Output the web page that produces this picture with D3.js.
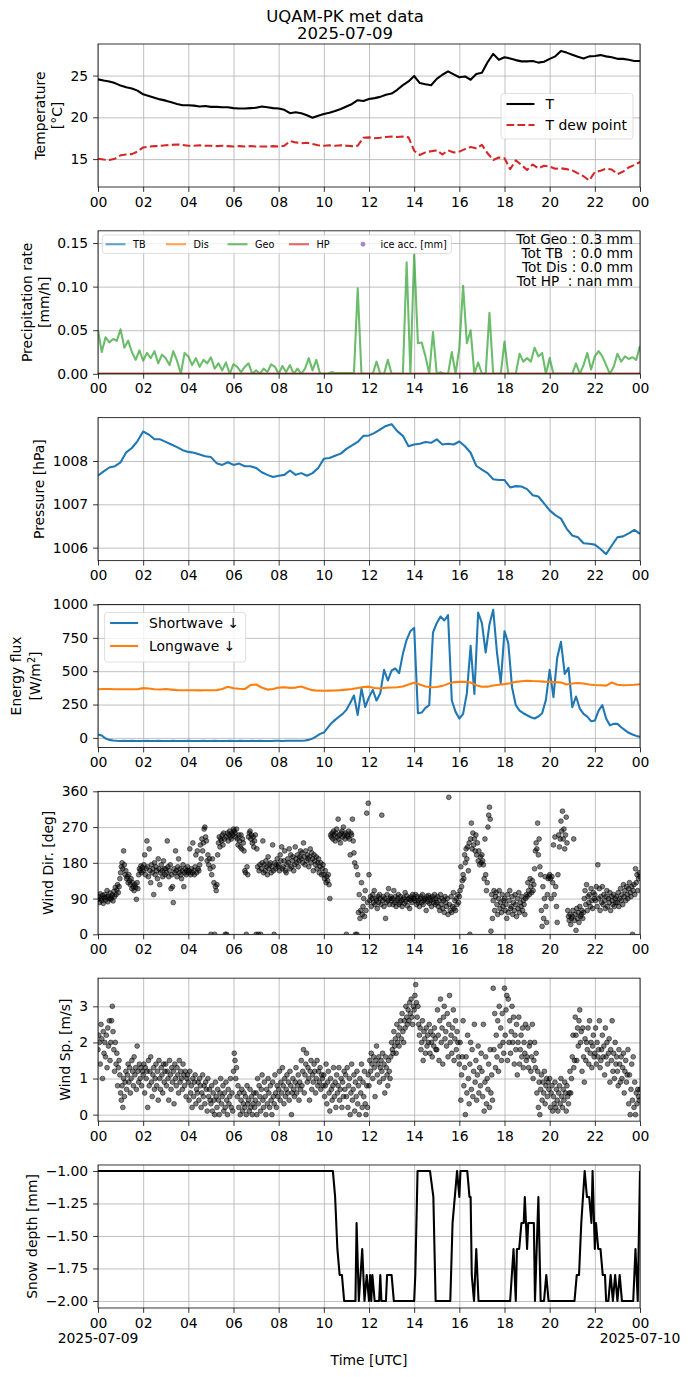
<!DOCTYPE html>
<html>
<head>
<meta charset="utf-8">
<title>UQAM-PK met data</title>
<script src="https://cdn.jsdelivr.net/npm/d3@7"></script>
<style>
  body { margin: 0; background: #fff; }
  text { font-family: "DejaVu Sans", sans-serif; fill: #000; }
  .tick text { font-size: 13.9px; }
  .grid line { stroke: #b0b0b0; stroke-width: 0.8; }
  .ticks line { stroke: #000; stroke-width: 0.8; }
</style>
</head>
<body>
<svg id="fig" width="690" height="1377"></svg>
<script>
// ---- data (hours from 2025-07-09 00:00 UTC) ----
var xTickHours = [0, 2, 4, 6, 8, 10, 12, 14, 16, 18, 20, 22, 24];

// temperature, every 15 min
var tempT = [
  24.55, 24.4, 24.3, 24.1,  23.8, 23.6, 23.45, 23.2,  22.75, 22.55, 22.35, 22.15,
  22.0, 21.8, 21.6, 21.45,  21.45, 21.4, 21.3, 21.35,  21.25, 21.25, 21.2, 21.2,
  21.1, 21.05, 21.05, 21.1,  21.15, 21.3, 21.2, 21.1,  21.05, 20.9, 20.5, 20.6,
  20.5, 20.25, 19.95, 20.2,  20.4, 20.55, 20.75, 21.0,  21.3, 21.6, 22.05, 21.95,
  22.2, 22.3, 22.45, 22.7,  22.85, 23.3, 23.85, 24.3,  24.95, 24.1, 23.95, 23.85,
  24.6, 25.1, 25.5, 25.15,  24.8, 24.9, 24.5, 25.2,  25.35, 26.6, 27.6, 26.9,
  27.2, 27.05, 26.85, 26.7,  26.7, 26.75, 26.55, 26.65,  27.0, 27.3, 27.95, 27.75,
  27.5, 27.25, 27.05, 27.3,  27.35, 27.45, 27.3, 27.2,  27.0, 27.0, 26.9, 26.75,
  26.75
];
var tempTd = [
  15.05, 14.95, 14.9, 15.05,  15.45, 15.55, 15.6, 15.9,  16.4, 16.5, 16.55, 16.6,
  16.65, 16.7, 16.75, 16.7,  16.6, 16.6, 16.65, 16.6,  16.6, 16.55, 16.6, 16.55,
  16.5, 16.55, 16.5, 16.55,  16.5, 16.5, 16.5, 16.55,  16.5, 16.6, 17.15, 17.0,
  16.9, 16.95, 16.8, 16.65,  16.6, 16.65, 16.6, 16.65,  16.6, 16.55, 16.6, 17.55,
  17.6, 17.5, 17.55, 17.65,  17.7, 17.65, 17.7, 17.6,  16.0, 15.5, 15.8, 15.95,
  16.05, 15.55, 16.05, 15.8,  15.9, 16.2, 16.45, 16.3,  16.7, 15.7, 14.9, 15.2,
  15.1, 13.8, 14.85, 14.3,  13.7, 14.35, 13.9, 14.2,  14.1, 13.85, 13.9, 13.8,
  13.65, 13.3, 12.95, 12.45,  13.45, 13.6, 13.85, 13.75,  13.2, 13.5, 14.0, 14.3,
  14.65
];

// precipitation rate, every 10 min
var precipGeo = [
  .05, .025, .042, .036, .04, .038,   .051, .03, .038, .025, .016, .027,
  .015, .024, .018, .026, .012, .022, .018, .01, .026, .015, 0, .024,
  .02, .01, .018, .008, .016, .012,   .019, .006, .012, .004, .013, 0,
  .011, .008, .002, .008, .012, 0,    .004, 0, .006, .002, .011, .008,
  0, .009, .002, .01, 0, .006,        0, .006, .018, .004, .016, 0,
  0, 0, .002, .001, .001, .001,       .001, .001, .001, .098, 0, 0,
  0, 0, .014, 0, 0, .016,             0, 0, 0, 0, .128, 0,
  .137, .035, .036, .02, 0, .048,     0, .002, 0, 0, .025, 0,
  .03, .101, .035, .05, 0, .013,      0, 0, .07, 0, 0, 0,
  .037, 0, 0, 0, .023, .014,          .018, .014, .03, .02, .024, 0,
  .018, 0, 0, 0, 0, 0,                0, .012, 0, .01, .024, .005,
  .02, .026, .02, .01, 0, .008,       .023, .014, .02, .017, .019, .016,
  .032
];
var zeroHours = [0, 24];
var precipTB = [0, 0];
var precipDis = [0, 0];
var precipHP = [0, 0];
var precipTotals = ["Tot Geo : 0.3 mm", "Tot TB  : 0.0 mm", "Tot Dis : 0.0 mm", "Tot HP  : nan mm"];

// pressure, every 15 min
var pressure = [
  1007.66, 1007.76, 1007.85, 1007.88,  1007.97, 1008.2, 1008.3, 1008.46,
  1008.68, 1008.61, 1008.5, 1008.5,    1008.44, 1008.38, 1008.32, 1008.25,
  1008.21, 1008.19, 1008.15, 1008.11,  1008.09, 1007.95, 1007.91, 1007.97,
  1007.91, 1007.94, 1007.88, 1007.88,  1007.84, 1007.74, 1007.68, 1007.63,
  1007.66, 1007.68, 1007.78, 1007.68,  1007.72, 1007.66, 1007.72, 1007.84,
  1008.05, 1008.07, 1008.12, 1008.17,  1008.28, 1008.36, 1008.44, 1008.58,
  1008.59, 1008.65, 1008.73, 1008.81,  1008.85, 1008.69, 1008.58, 1008.34,
  1008.38, 1008.4, 1008.44, 1008.42,   1008.5, 1008.38, 1008.4, 1008.38,
  1008.45, 1008.34, 1008.19, 1007.89,  1007.8, 1007.72, 1007.58, 1007.56,
  1007.56, 1007.39, 1007.42, 1007.41,  1007.35, 1007.21, 1007.18, 1007.02,
  1006.86, 1006.75, 1006.67, 1006.44,  1006.28, 1006.24, 1006.1, 1006.09,
  1006.07, 1005.97, 1005.85, 1006.05,  1006.24, 1006.26, 1006.33, 1006.41,
  1006.32
];

// shortwave down, every 10 min
var shortwave = [
  25, 18, -5, -15, -20, -22,   -23, -22, -23, -22, -23, -23,
  -23, -22, -23, -23, -22, -23, -23, -23, -22, -23, -23, -23,
  -22, -23, -23, -23, -22, -23, -23, -22, -23, -23, -23, -22,
  -23, -23, -22, -23, -23, -22, -23, -22, -23, -23, -23, -22,
  -22, -23, -22, -22, -22, -21, -21, -20, -15, -5, 12, 30,
  40, 75, 110, 135, 158, 180,  210, 262, 318, 172, 370, 232,
  305, 360, 280, 335, 510, 430, 505, 520, 485, 630, 735, 800,
  825, 185, 190, 225, 245, 790, 860, 910, 880, 920, 280, 195,
  145, 180, 335, 690, 330, 940, 860, 640, 850, 960, 640, 410,
  800, 710, 380, 245, 205, 185, 170, 155, 145, 160, 185, 285,
  510, 305, 600, 720, 480, 525, 230, 310, 220, 180, 160, 125,
  130, 205, 245, 145, 95, 105,  105, 80, 58, 38, 25, 15,
  8
];
// longwave down, every 15 min
var longwave = [
  365, 366, 366, 365,  365, 364, 364, 365,  373, 370, 364, 363,
  366, 362, 358, 357,  357, 357, 356, 357,  357, 358, 366, 383,
  372, 368, 366, 396,  400, 378, 362, 366,  377, 380, 375, 377,
  385, 370, 358, 354,  353, 354, 355, 358,  362, 366, 374, 382,
  384, 374, 370, 376,  378, 380, 385, 400,  414, 400, 385, 380,
  382, 390, 405, 418,  420, 420, 415, 395,  383, 384, 392, 398,
  403, 410, 420, 425,  428, 426, 425, 422,  420, 418, 415, 400,
  408, 412, 408, 400,  396, 395, 392, 415,  398, 395, 396, 398,
  402
];

// wind direction, every 2 min (one row per hour)
var windDir = [
  88, 95, 80, 102, 90, 85, 98, 78, 92, 100, 86, 94, 110, 82, 96, 90, 104, 88, 93, 99, 84, 108, 95, 118, 100, 112, 125, 105, 120, 140,
  155, 170, 180, 165, 210, 175, 150, 160, 140, 145, 130, 150, 135, 125, 140, 115, 130, 120, 110, 125, 118, 88, 130, 115, 150, 165, 160, 172, 155, 168,
  160, 175, 200, 150, 165, 235, 170, 145, 215, 160, 130, 175, 155, 165, 100, 180, 150, 170, 160, 140, 190, 165, 125, 155, 175, 160, 145, 185, 165, 150,
  165, 155, 235, 170, 145, 160, 175, 115, 150, 120, 80, 165, 155, 210, 160, 145, 170, 190, 155, 165, 150, 140, 160, 175, 120, 155, 165, 150, 160, 170,
  155, 160, 215, 150, 165, 155, 230, 160, 150, 170, 200, 155, 210, 165, 160, 175, 225, 190, 240, 210, 230, 265, 270, 245, 235, 185, 200, 175, 190, 165,
  0, 150, 190, 170, 130, 0, 120, 110, 125, 200, 230, 245, 220, 240, 235, 250, 225, 255, 240, 0, 245, 0, 255, 235, 250, 260, 245, 240, 255, 250,
  265, 260, 255, 245, 265, 240, 225, 250, 235, 220, 250, 215, 240, 230, 210, 160, 155, 0, 170, 150, 245, 255, 260, 240, 250, 230, 245, 220, 235, 250,
  0, 215, 170, 0, 160, 175, 0, 165, 180, 235, 155, 175, 160, 185, 170, 150, 195, 165, 175, 180, 155, 170, 225, 160, 0, 180, 165, 175, 190, 170,
  175, 160, 200, 185, 220, 165, 170, 185, 210, 160, 155, 175, 190, 180, 215, 165, 200, 170, 185, 195, 160, 175, 220, 190, 180, 200, 170, 185, 195, 210,
  190, 205, 180, 230, 195, 175, 210, 185, 200, 190, 170, 195, 215, 180, 205, 190, 160, 200, 185, 175, 195, 165, 180, 190, 155, 170, 180, 150, 165, 175,
  150, 140, 160, 130, 145, 135, 150, 125, 90, 250, 245, 255, 240, 260, 250, 235, 255, 265, 245, 290, 240, 250, 230, 255, 260, 245, 270, 250, 240, 255,
  0, 250, 245, 260, 240, 200, 255, 250, 290, 235, 205, 180, 0, 170, 0, 150, 55, 100, 40, 60, 130, 50, 70, 90, 45, 110, 60, 305, 80, 330,
  150, 85, 95, 70, 90, 100, 80, 110, 75, 90, 85, 65, 95, 80, 100, 90, 75, 300, 85, 95, 70, 90, 40, 80, 100, 85, 115, 75, 90, 95,
  85, 90, 75, 110, 80, 95, 70, 85, 90, 100, 75, 80, 95, 85, 70, 88, 92, 78, 105, 83, 97, 72, 88, 91, 65, 86, 94, 80, 100, 90,
  90, 85, 100, 75, 95, 80, 85, 70, 90, 95, 80, 100, 75, 85, 90, 88, 60, 95, 82, 98, 78, 92, 85, 70, 95, 88, 80, 100, 75, 90,
  80, 95, 70, 85, 60, 100, 75, 90, 65, 85, 55, 95, 80, 70, 90, 50, 345, 75, 60, 95, 55, 70, 105, 65, 85, 60, 90, 75, 100, 80,
  95, 110, 170, 120, 135, 150, 140, 200, 180, 215, 190, 220, 160, 230, 0, 240, 280, 215, 255, 225, 240, 210, 250, 200, 230, 185, 210, 175, 195, 180,
  200, 185, 175, 140, 240, 150, 110, 130, 270, 300, 320, 290, 8, 100, 40, 85, 110, 60, 95, 105, 75, 50, 90, 110, 65, 80, 55, 100, 70, 85,
  90, 60, 75, 40, 100, 55, 85, 110, 65, 70, 95, 50, 80, 60, 100, 75, 45, 90, 65, 105, 55, 80, 70, 95, 60, 85, 75, 50, 90, 100,
  95, 130, 110, 100, 140, 120, 105, 135, 110, 125, 165, 210, 230, 215, 280, 200, 240, 170, 150, 60, 20, 120, 40, 90, 145, 70, 30, 100, 140, 145,
  150, 140, 90, 145, 130, 225, 100, 245, 120, 70, 30, 150, 250, 220, 240, 285, 260, 310, 240, 265, 215, 250, 295, 230, 60, 45, 35, 50, 25, 40,
  45, 60, 240, 35, 50, 10, 65, 40, 55, 30, 70, 45, 50, 60, 40, 55, 90, 110, 75, 125, 60, 95, 80, 100, 70, 115, 85, 65, 105, 90,
  100, 85, 120, 70, 175, 90, 115, 60, 95, 80, 120, 75, 100, 85, 65, 95, 110, 70, 90, 80, 105, 60, 95, 85, 75, 100, 70, 90, 80, 95,
  80, 105, 70, 90, 115, 85, 100, 75, 125, 95, 110, 85, 120, 100, 90, 115, 130, 105, 95, 120, 0, 110, 125, 100, 165, 130, 150, 110, 140, 155,
  145
];
// wind speed, every 2 min (one row per hour)
var windSpeed = [
  1.8, 2.2, 2.0, 1.4, 2.5, 2.1, 1.0, 2.3, 1.7, 2.0, 1.6, 2.2, 1.3, 2.4, 1.9, 2.6, 1.5, 2.0, 2.6, 3.0, 2.3, 1.8, 1.2, 2.0, 1.4, 1.7, 0.8, 1.3, 1.5, 1.1,
  0.6, 0.4, 0.8, 0.2, 1.0, 0.5, 0.9, 1.2, 0.7, 1.1, 1.4, 0.9, 1.3, 0.6, 1.0, 1.5, 1.2, 0.8, 1.6, 1.1, 1.3, 0.7, 1.9, 1.2, 0.9, 1.4, 1.0, 1.3, 0.8, 1.2,
  1.1, 1.4, 0.6, 1.3, 1.0, 1.2, 0.2, 1.5, 0.8, 1.2, 1.6, 0.9, 0.5, 1.1, 1.3, 0.7, 1.0, 1.4, 0.8, 1.2, 0.4, 1.5, 1.0, 0.7, 1.3, 1.1, 0.6, 1.4, 0.9, 1.2,
  1.4, 0.8, 1.2, 1.0, 0.4, 1.5, 1.1, 0.7, 1.3, 0.9, 1.2, 0.3, 1.4, 1.0, 0.8, 1.3, 1.1, 0.6, 1.5, 0.9, 1.2, 1.0, 0.7, 1.4, 1.1, 0.8, 1.2, 0.5, 1.0, 1.1,
  0.9, 0.4, 1.2, 0.6, 0.8, 0.2, 1.0, 0.5, 0.9, 1.1, 0.3, 0.7, 0.6, 0.9, 0.4, 1.0, 0.8, 0.2, 0.6, 1.1, 0.5, 0.8, 0.3, 0.9, 0.7, 0.1, 1.0, 0.5, 0.7, 0.4,
  0.3, 0.8, 0.1, 0.6, 0.4, 0.0, 0.9, 0.5, 0.2, 0.7, 0.4, 0.0, 0.6, 1.0, 0.3, 0.5, 0.8, 0.1, 0.6, 0.2, 0.9, 0.4, 0.0, 0.7, 0.3, 0.5, 1.0, 0.2, 0.6, 0.1,
  1.2, 1.7, 1.5, 1.0, 1.3, 0.5, 0.8, 0.2, 0.6, 0.0, 0.4, 0.7, 0.1, 0.3, 0.6, 0.2, 0.5, 0.0, 0.8, 0.3, 0.4, 0.1, 0.7, 0.2, 0.5, 0.0, 0.3, 0.6, 0.2, 0.4,
  0.6, 0.0, 1.0, 0.3, 0.8, 0.5, 0.1, 0.7, 1.1, 0.4, 0.2, 0.9, 0.5, 0.0, 0.7, 0.3, 1.0, 0.6, 0.2, 0.8, 0.4, 0.0, 0.9, 0.5, 0.3, 1.1, 0.6, 0.2, 0.8, 0.5,
  0.7, 1.2, 0.4, 0.9, 0.6, 1.3, 0.8, 0.3, 1.0, 0.5, 0.7, 1.1, 0.6, 0.9, 0.4, 1.2, 0.8, 0.0, 0.6, 1.0, 0.7, 0.5, 0.9, 1.3, 0.6, 0.8, 1.1, 0.4, 0.9, 0.7,
  1.5, 0.8, 1.2, 1.8, 0.6, 1.1, 1.4, 1.7, 0.9, 1.3, 1.0, 0.4, 1.2, 1.5, 0.7, 1.1, 0.9, 1.4, 1.2, 0.6, 1.0, 1.5, 0.8, 1.2, 0.9, 1.3, 0.7, 1.1, 1.0, 0.8,
  1.1, 0.5, 0.8, 1.4, 0.3, 0.9, 1.2, 0.6, 0.1, 1.0, 0.7, 0.4, 0.8, 1.3, 0.5, 0.9, 0.2, 1.1, 0.6, 0.8, 1.3, 0.4, 0.7, 1.0, 0.2, 0.9, 0.5, 1.2, 0.7, 1.1,
  0.5, 1.3, 0.2, 0.8, 1.0, 0.0, 0.6, 1.4, 0.4, 0.7, 1.1, 0.1, 0.9, 0.5, 1.2, 0.3, 0.8, 0.0, 1.0, 0.6, 1.4, 0.2, 0.9, 0.5, 1.2, 0.3, 0.0, 0.8, 0.2, 1.1,
  0.8, 1.5, 1.2, 1.7, 1.4, 1.0, 1.6, 1.3, 0.5, 1.5, 1.9, 1.1, 1.4, 1.6, 0.9, 1.3, 1.5, 1.2, 1.7, 1.0, 1.4, 0.6, 1.6, 1.3, 1.1, 0.8, 1.5, 1.2, 1.0, 1.6,
  2.0, 1.8, 1.7, 2.3, 1.9, 2.1, 1.7, 2.5, 2.0, 2.2, 1.9, 2.4, 2.6, 2.1, 2.8, 2.3, 2.0, 2.6, 2.4, 3.0, 2.7, 2.5, 2.9, 2.6, 3.1, 2.8, 3.2, 2.7, 2.5, 3.0,
  2.9, 3.3, 3.6, 3.1, 2.7, 3.0, 2.5, 2.2, 2.4, 1.8, 2.0, 2.6, 1.5, 2.3, 2.1, 1.7, 2.4, 1.9, 2.2, 2.0, 2.5, 1.7, 2.3, 2.0, 1.6, 2.2, 1.9, 2.4, 2.1, 1.8,
  1.8, 2.9, 2.2, 1.5, 2.6, 3.2, 2.0, 2.4, 1.4, 2.7, 3.0, 2.1, 2.3, 1.9, 2.8, 1.6, 2.5, 3.3, 2.0, 2.2, 1.7, 2.4, 2.9, 1.5, 2.1, 2.6, 1.8, 2.3, 2.0, 1.6,
  1.4, 2.0, 0.4, 1.1, 1.6, 2.6, 0.8, 1.3, 0.0, 1.6, 0.6, 2.2, 1.0, 0.3, 1.4, 2.0, 0.7, 1.8, 0.5, 1.2, 2.5, 0.9, 1.5, 0.4, 1.1, 1.9, 0.6, 1.3, 0.8, 1.7,
  1.2, 0.5, 2.5, 0.1, 0.9, 1.6, 0.3, 1.0, 0.7, 1.4, 0.2, 1.8, 0.6, 1.1, 0.4, 3.5, 1.8, 2.8, 1.3, 2.2, 1.6, 2.6, 1.2, 3.0, 1.9, 2.4, 1.5, 2.8, 2.0, 1.7,
  3.5, 2.2, 2.9, 3.3, 1.5, 3.2, 2.0, 2.6, 1.7, 2.3, 3.0, 2.0, 2.7, 1.4, 2.2, 1.8, 2.5, 1.1, 2.0, 2.7, 1.4, 1.8, 2.2, 1.6, 2.4, 1.3, 2.0, 1.7, 2.5, 1.5,
  1.6, 2.4, 1.3, 1.9, 2.0, 1.2, 1.6, 2.5, 1.0, 1.5, 2.0, 1.3, 1.7, 0.6, 1.2, 0.2, 0.9, 0.0, 0.7, 1.1, 0.4, 0.9, 0.6, 1.2, 0.3, 0.8, 1.0, 0.5, 0.9, 0.7,
  1.0, 0.2, 0.6, 0.8, 0.1, 0.5, 0.3, 0.9, 0.2, 0.7, 0.4, 0.1, 0.6, 0.8, 0.3, 1.0, 0.5, 0.2, 0.7, 0.4, 0.9, 0.6, 0.1, 0.8, 0.5, 0.3, 0.6, 1.2, 0.6, 1.0,
  1.6, 2.2, 1.3, 1.5, 2.7, 2.2, 1.5, 2.4, 1.9, 2.6, 2.9, 2.0, 2.3, 1.2, 2.4, 1.6, 0.9, 2.1, 1.5, 2.0, 1.8, 2.4, 1.4, 2.6, 1.7, 2.0, 1.3, 1.9, 2.2, 1.6,
  1.7, 2.4, 1.4, 2.0, 1.6, 1.8, 2.6, 1.3, 1.5, 1.8, 2.2, 1.6, 1.9, 1.1, 2.4, 1.6, 2.0, 1.4, 1.7, 2.1, 0.9, 1.8, 1.5, 2.6, 1.2, 1.7, 1.0, 2.0, 1.4, 1.6,
  1.2, 0.8, 1.8, 1.4, 0.9, 1.6, 1.0, 1.3, 1.7, 0.6, 1.2, 1.5, 0.9, 1.1, 1.8, 0.3, 1.1, 0.0, 0.7, 1.4, 0.4, 1.6, 0.2, 0.9, 0.0, 0.6, 0.3, 0.7, 0.5, 0.4,
  0.7
];

// snow depth, read at the turning points of the trace
var snowHours = [0, 10.4, 10.5, 10.6, 10.7, 10.8, 10.9, 11.4, 11.45, 11.55, 11.7, 11.8, 11.9, 12.0,
  12.05, 12.1, 12.15, 12.25, 12.45, 12.5, 12.55, 12.75, 12.8, 13.0, 13.1, 14.0, 14.05, 14.15,
  14.7, 14.85, 14.95, 15.6, 15.7, 15.85, 15.9, 16.0, 16.05, 16.35, 16.45, 16.5, 16.55, 16.65,
  16.75, 16.85, 18.25, 18.4, 18.5, 18.55, 18.65, 18.75, 18.85, 18.9, 19.0, 19.05, 19.3, 19.35,
  19.5, 19.6, 19.75, 19.85, 19.95, 21.1, 21.2, 21.3, 21.4, 21.55, 21.65, 21.75, 21.85, 21.9,
  22.0, 22.05, 22.15, 22.25, 22.35, 22.45, 22.5, 22.6, 22.7, 22.8, 22.9, 23.0, 23.1, 23.2,
  23.7, 23.8, 23.9, 24.0];
var snowDepth = [-1, -1, -1.2, -1.6, -1.8, -1.8, -2, -2, -1.4, -2, -1.6, -2, -1.8, -2,
  -1.8, -2, -1.8, -2, -2, -1.8, -2, -2, -1.8, -1.8, -2, -2, -1.8, -1,
  -1, -1.2, -2, -2, -1.4, -1.1, -1, -1.2, -1, -1, -1.2, -1.2, -1.8, -2,
  -1.6, -2, -2, -1.6, -2, -1.6, -1.6, -1.4, -1.4, -1.2, -1.6, -1.4, -1.4, -2,
  -1.2, -2, -2, -1.8, -2, -2, -1.8, -1.8, -1.4, -1, -1.2, -1.2, -1.4, -1,
  -1.6, -1.4, -1.6, -1.6, -1.8, -1.8, -2, -2, -1.8, -2, -1.8, -2, -1.8, -2,
  -2, -1.6, -2, -1];

// ---- figure ----
var svg = d3.select("#fig");
var t0 = Date.UTC(2025, 6, 9);
function toDate(h) { return new Date(t0 + h * 3600e3); }

var left = 98, right = 640, panelH = 143;
var x = d3.scaleUtc().domain([toDate(0), toDate(24)]).range([left, right]);
var xTicks = xTickHours.map(toDate);

function makePanel(i, domain, yTicks, fmt, labelLines, labelXs) {
  var top = 44 + i * 186.83, bottom = top + panelH;
  var y = d3.scaleLinear().domain(domain).range([bottom, top]);
  var g = svg.append("g");

  g.append("clipPath").attr("id", "clip" + i)
    .append("rect").attr("x", left).attr("y", top)
    .attr("width", right - left).attr("height", panelH);

  // grid
  g.append("g").attr("class", "grid").attr("transform", "translate(0," + bottom + ")")
    .call(d3.axisBottom(x).tickValues(xTicks).tickSize(-panelH).tickFormat(""))
    .call(function(s) { s.select(".domain").remove(); });
  g.append("g").attr("class", "grid").attr("transform", "translate(" + left + ",0)")
    .call(d3.axisLeft(y).tickValues(yTicks).tickSize(-(right - left)).tickFormat(""))
    .call(function(s) { s.select(".domain").remove(); });

  var plot = g.append("g").attr("clip-path", "url(#clip" + i + ")");

  // ticks and labels
  var xa = g.append("g").attr("class", "ticks").attr("transform", "translate(0," + bottom + ")")
    .call(d3.axisBottom(x).tickValues(xTicks).tickFormat(d3.utcFormat("%H"))
      .tickSize(4.9).tickPadding(4.9));
  xa.select(".domain").remove();
  var ya = g.append("g").attr("class", "ticks").attr("transform", "translate(" + left + ",0)")
    .call(d3.axisLeft(y).tickValues(yTicks).tickFormat(fmt).tickSize(4.9).tickPadding(4.9));
  ya.select(".domain").remove();

  var cy = (top + bottom) / 2;
  labelLines.forEach(function(line, k) {
    var t = g.append("text")
      .attr("transform", "translate(" + labelXs[k] + "," + cy + ") rotate(-90)")
      .attr("text-anchor", "middle").attr("dy", "0.36em")
      .style("font-size", "13.9px");
    if (Array.isArray(line)) {
      t.append("tspan").text(line[0]);
      t.append("tspan").attr("baseline-shift", "super").style("font-size", "9.7px").text(line[1]);
      t.append("tspan").text(line[2]);
    } else {
      t.text(line);
    }
  });

  g.append("rect").attr("x", left).attr("y", top)
    .attr("width", right - left).attr("height", panelH)
    .attr("fill", "none").attr("stroke", "#000").attr("stroke-width", 0.8);

  return { g: g, plot: plot, y: y, top: top, bottom: bottom };
}

function drawLine(p, hours, values, color, width, dash, opacity) {
  var line = d3.line().x(function(d, k) { return x(toDate(hours[k])); })
    .y(function(d) { return p.y(d); });
  p.plot.append("path").datum(values).attr("d", line)
    .attr("fill", "none").attr("stroke", color).attr("stroke-width", width)
    .attr("stroke-dasharray", dash || null).attr("stroke-opacity", opacity || 1)
    .attr("stroke-linejoin", "round");
}
function hoursEvery(n, step) { return d3.range(n).map(function(k) { return k * step; }); }

function drawScatter(p, values, perHour) {
  p.plot.selectAll("circle").data(values).join("circle")
    .attr("cx", function(d, k) { return x(toDate(k / perHour)); })
    .attr("cy", function(d) { return p.y(d); })
    .attr("r", 2.4).attr("fill", "#000").attr("fill-opacity", 0.5)
    .attr("stroke", "#000").attr("stroke-opacity", 0.5).attr("stroke-width", 1);
}

function legend(g, x0, y0, w, h, items, fs, handleLen, textGap, rowH, horizontal, colXs) {
  var lg = g.append("g");
  lg.append("rect").attr("x", x0).attr("y", y0).attr("width", w).attr("height", h)
    .attr("rx", 2.8).attr("fill", "#fff").attr("fill-opacity", 0.8)
    .attr("stroke", "#ccc").attr("stroke-opacity", 0.8).attr("stroke-width", 0.8);
  items.forEach(function(it, k) {
    var hx = horizontal ? colXs[k] : x0 + 5.5;
    var hy = horizontal ? y0 + h / 2 : y0 + 10.5 + k * rowH;
    if (it.dot) {
      lg.append("circle").attr("cx", hx + handleLen / 2).attr("cy", hy).attr("r", 2.4)
        .attr("fill", it.color).attr("fill-opacity", 0.8);
    } else {
      lg.append("line").attr("x1", hx).attr("x2", hx + handleLen).attr("y1", hy).attr("y2", hy)
        .attr("stroke", it.color).attr("stroke-width", 2.08)
        .attr("stroke-opacity", it.opacity || 1)
        .attr("stroke-dasharray", it.dash || null);
    }
    lg.append("text").attr("x", hx + handleLen + textGap).attr("y", hy).attr("dy", "0.36em")
      .style("font-size", fs + "px").text(it.label);
  });
}

// title
svg.append("text").attr("x", 345).attr("y", 22).attr("text-anchor", "middle")
  .style("font-size", "16.5px").text("UQAM-PK met data");
svg.append("text").attr("x", 345).attr("y", 39).attr("text-anchor", "middle")
  .style("font-size", "16.5px").text("2025-07-09");

// 1 temperature
var p1 = makePanel(0, [11.66, 28.78], [15, 20, 25], d3.format("d"), ["Temperature", "[°C]"], [40, 57]);
drawLine(p1, hoursEvery(tempT.length, 0.25), tempT, "#000", 2.08);
drawLine(p1, hoursEvery(tempTd.length, 0.25), tempTd, "#d62728", 2.08, "7.7,3.3");
legend(p1.g, 501, 93.5, 132, 45.5, [
  { label: "T", color: "#000" },
  { label: "T dew point", color: "#d62728", dash: "7.7,3.3" }
], 13.9, 28, 11, 21);

// 2 precipitation
var p2 = makePanel(1, [0, 0.164], [0, 0.05, 0.10, 0.15], d3.format(".2f"),
  ["Precipitation rate", "[mm/h]"], [27, 44]);
drawLine(p2, zeroHours, precipTB, "#1f77b4", 2.08, null, 0.7);
drawLine(p2, zeroHours, precipDis, "#ff7f0e", 2.08, null, 0.7);
drawLine(p2, hoursEvery(precipGeo.length, 1 / 6), precipGeo, "#2ca02c", 2.08, null, 0.7);
drawLine(p2, zeroHours, precipHP, "#d62728", 2.08, null, 0.7);
legend(p2.g, 102.4, 235, 349, 18.5, [
  { label: "TB", color: "#1f77b4", opacity: 0.7 },
  { label: "Dis", color: "#ff7f0e", opacity: 0.7 },
  { label: "Geo", color: "#2ca02c", opacity: 0.7 },
  { label: "HP", color: "#d62728", opacity: 0.7 },
  { label: "ice acc. [mm]", color: "#9467bd", dot: true }
], 9.7, 20, 7.5, 0, true, [105.5, 166, 227.5, 289, 353]);
precipTotals.forEach(function(s, k) {
  p2.g.append("text").attr("x", 633).attr("y", 244 + k * 14).attr("text-anchor", "end")
    .style("font-size", "13.6px").style("white-space", "pre").attr("xml:space", "preserve").text(s);
});

// 3 pressure
var p3 = makePanel(2, [1005.7, 1009.0], [1006, 1007, 1008], d3.format("d"), ["Pressure [hPa]"], [39]);
drawLine(p3, hoursEvery(pressure.length, 0.25), pressure, "#1f77b4", 2.08);

// 4 radiation
var p4 = makePanel(3, [-72, 1000], [0, 250, 500, 750, 1000], d3.format("d"),
  ["Energy flux", ["[W/m", "2", "]"]], [16, 35]);
drawLine(p4, hoursEvery(shortwave.length, 1 / 6), shortwave, "#1f77b4", 2.08);
drawLine(p4, hoursEvery(longwave.length, 0.25), longwave, "#ff7f0e", 2.08);
legend(p4.g, 104.6, 612.5, 141, 49.5, [
  { label: "Shortwave  \u2193", color: "#1f77b4" },
  { label: "Longwave  \u2193", color: "#ff7f0e" }
], 13.9, 28, 11, 23);

// 5 wind direction
var p5 = makePanel(4, [0, 360], [0, 90, 180, 270, 360], d3.format("d"), ["Wind Dir. [deg]"], [47.5]);
drawScatter(p5, windDir, 30);

// 6 wind speed
var p6 = makePanel(5, [-0.18, 3.78], [0, 1, 2, 3], d3.format("d"), ["Wind Sp. [m/s]"], [65]);
drawScatter(p6, windSpeed, 30);

// 7 snow depth
var p7 = makePanel(6, [-2.054, -0.954], [-2, -1.75, -1.5, -1.25, -1], d3.format(".2f"),
  ["Snow depth [mm]"], [32]);
drawLine(p7, snowHours, snowDepth, "#000", 2.08);

p7.g.append("text").attr("x", x(toDate(0))).attr("y", p7.bottom + 35).attr("text-anchor", "middle")
  .style("font-size", "13.9px").text("2025-07-09");
p7.g.append("text").attr("x", x(toDate(24))).attr("y", p7.bottom + 35).attr("text-anchor", "middle")
  .style("font-size", "13.9px").text("2025-07-10");
svg.append("text").attr("x", (left + right) / 2).attr("y", 1364.5).attr("text-anchor", "middle")
  .style("font-size", "13.9px").text("Time [UTC]");
</script>
</body>
</html>
